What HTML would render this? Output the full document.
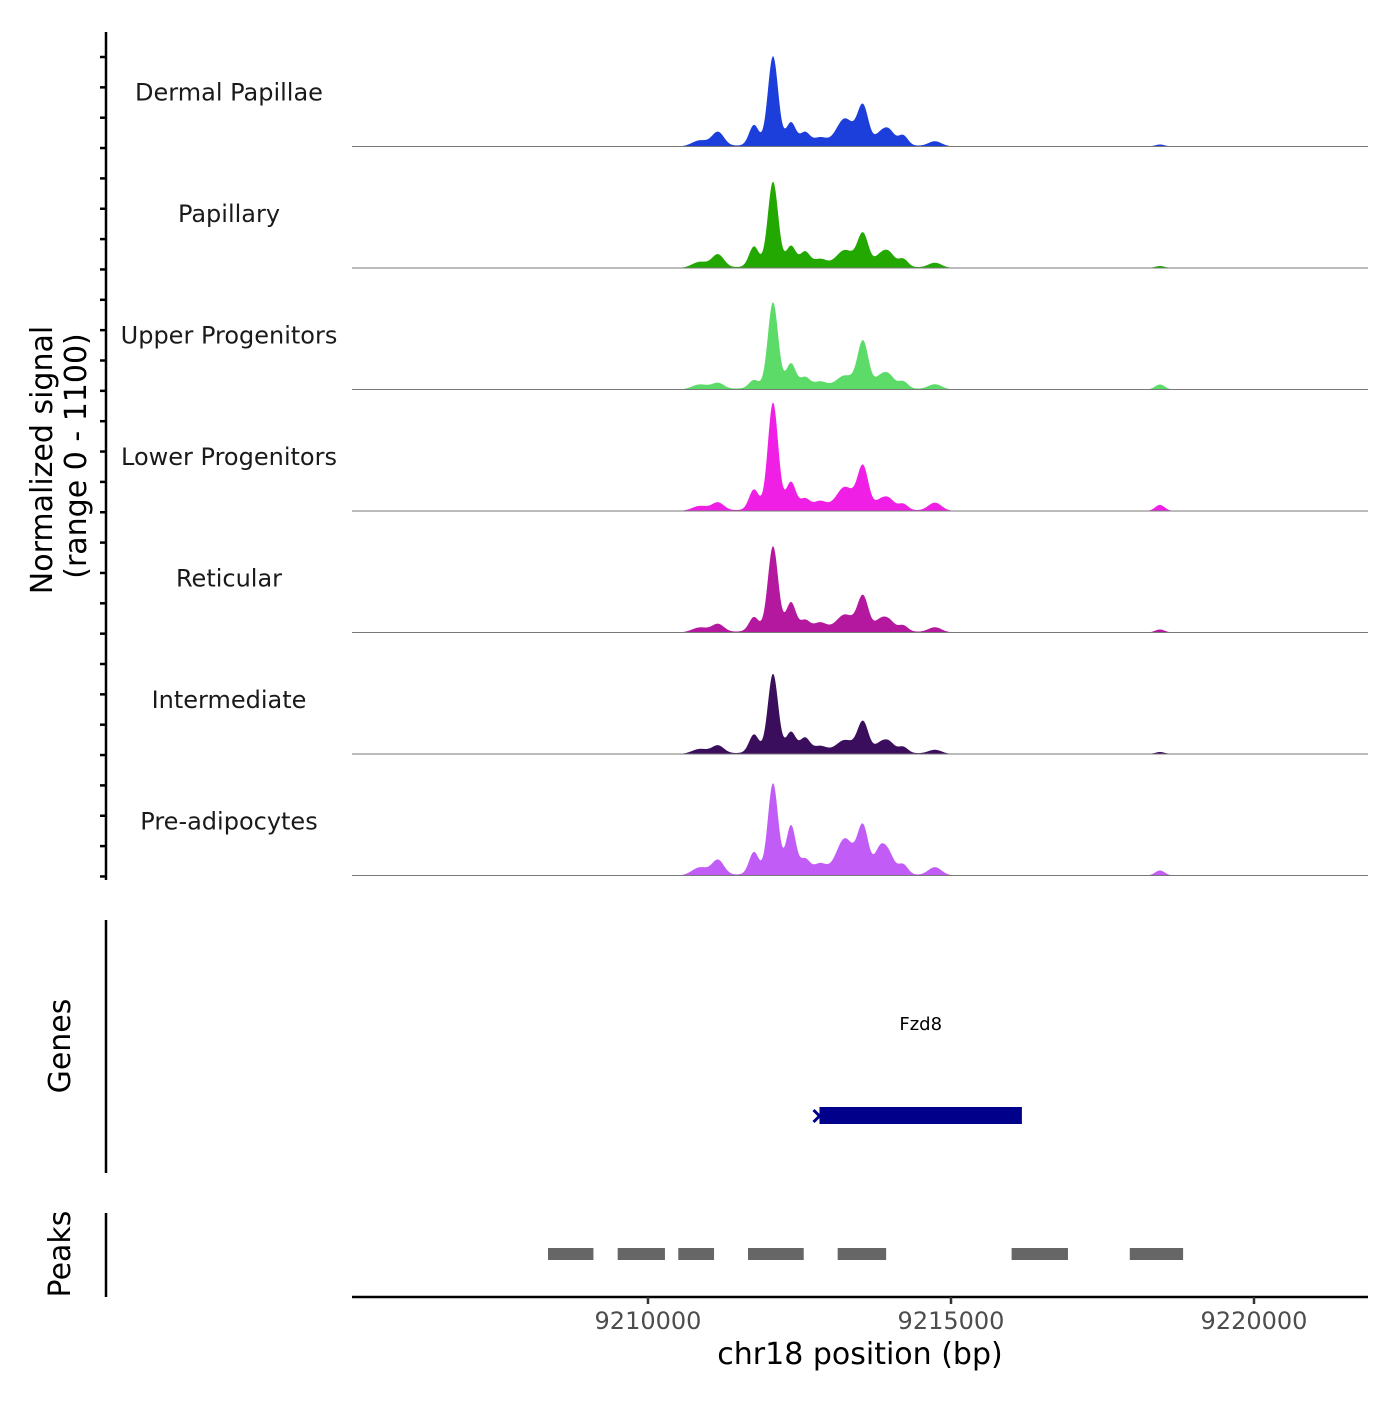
<!DOCTYPE html>
<html><head><meta charset="utf-8"><style>
body{margin:0;background:#fff}
svg text{font-family:"DejaVu Sans","Liberation Sans",sans-serif}
</style></head><body>
<svg id="chart" width="1400" height="1400" viewBox="0 0 1400 1400">
<g id="tracks"></g>
<g id="left"></g>
<g id="bottom"></g>
</svg>
<script>
const trackNames = ["Dermal Papillae","Papillary","Upper Progenitors","Lower Progenitors","Reticular","Intermediate","Pre-adipocytes"];
const trackColors = ["#1c3fdb","#22a800","#5cdb68","#f01fe6","#b3189f","#3a0e5c","#c15cf6"];
const peakPositions = [9210858,9211155,9211749,9212063,9212360,9212590,9212838,9213250,9213548,9213828,9213977,9214208,9214736,9218448];
const peakWidths = [130,100,80,85,80,80,110,140,90,90,90,80,110,80];
const dpValues = [55,127,182,800,200,109,64,236,345,91,127,91,45,18];
const papValues = [55,118,182,764,182,127,64,145,291,91,118,73,45,18];
const upValues = [45,55,73,773,218,91,55,109,418,91,109,64,45,45];
const lpValues = [45,73,182,964,245,91,73,200,382,73,91,55,73,55];
const retValues = [45,73,127,764,255,91,73,145,309,91,91,55,45,27];
const intValues = [45,73,164,709,182,127,55,109,273,73,91,55,36,18];
const preValues = [73,136,200,818,436,127,91,318,418,218,164,91,73,45];
const seriesValues = [dpValues,papValues,upValues,lpValues,retValues,intValues,preValues];
const xTicks = [9210000,9215000,9220000];
const peakStarts = [9208350,9209500,9210500,9211650,9213130,9216000,9217950];
const peakEnds = [9209100,9210280,9211090,9212570,9213930,9216930,9218830];
const geneStart = 9212830, geneEnd = 9216170;

const NS="http://www.w3.org/2000/svg";
function el(t,a,p){const e=document.createElementNS(NS,t);for(const k in a)e.setAttribute(k,a[k]);p.appendChild(e);return e;}
const X0=352,X1=1368,B0=9205116,B1=9221881;
const xs=b=>X0+(b-B0)/(B1-B0)*(X1-X0);
const trackTop=25,trackH=121.5;
const ys=(v,i)=>trackTop+(i+1)*trackH-v/1100*trackH;
const tg=document.getElementById('tracks');
seriesValues.forEach((vals,i)=>{
  const base=trackTop+(i+1)*trackH;
  let d=`M${X0},${base}`;
  for(let px=X0;px<=X1;px+=0.5){
    const b=B0+(px-X0)/(X1-X0)*(B1-B0);
    let v=0;
    peakPositions.forEach((p,j)=>{const w=peakWidths[j];v+=vals[j]*Math.exp(-0.5*((b-p)/w)**2);});
    v+=18*Math.exp(-0.5*((b-9212900)/1300)**4);
    d+=` L${px},${ys(v,i).toFixed(2)}`;
  }
  d+=` L${X1},${base} Z`;
  const p=el('path',{d,fill:trackColors[i]},tg);
  
  
  const l=el('line',{x1:X0,x2:X1,y1:base,y2:base,stroke:'#777','stroke-width':1},tg);
  
  
  const t=el('text',{x:229,y:base-46,'text-anchor':'middle','font-size':24,fill:'#1a1a1a'},tg);
  t.textContent=trackNames[i];
  
  
});
const lg=document.getElementById('left');
el('line',{x1:106,x2:106,y1:32,y2:880,stroke:'#000','stroke-width':2.5},lg);
for(let y=57;y<=880;y+=30.35){el('line',{x1:100,x2:106,y1:y,y2:y,stroke:'#000','stroke-width':2.5},lg);}
let t=el('text',{transform:'translate(52,460) rotate(-90)','text-anchor':'middle','font-size':30},lg);t.textContent='Normalized signal';

t=el('text',{transform:'translate(86,456) rotate(-90)','text-anchor':'middle','font-size':30},lg);t.textContent='(range 0 - 1100)';

el('line',{x1:106,x2:106,y1:920,y2:1173,stroke:'#000','stroke-width':2.5},lg);
t=el('text',{transform:'translate(70,1046) rotate(-90)','text-anchor':'middle','font-size':30},lg);t.textContent='Genes';

el('line',{x1:106,x2:106,y1:1213,y2:1297,stroke:'#000','stroke-width':2.5},lg);
t=el('text',{transform:'translate(70,1254) rotate(-90)','text-anchor':'middle','font-size':30},lg);t.textContent='Peaks';

const bg=document.getElementById('bottom');
const g=el('rect',{x:xs(geneStart),y:1107,width:xs(geneEnd)-xs(geneStart),height:17,fill:'#00008b'},bg);

el('path',{d:`M${xs(geneStart)-6},1110 L${xs(geneStart)},1116 L${xs(geneStart)-6},1122`,stroke:'#00008b','stroke-width':3,fill:'none'},bg);
t=el('text',{x:(xs(geneStart)+xs(geneEnd))/2,y:1030,'text-anchor':'middle','font-size':18},bg);t.textContent='Fzd8';

peakStarts.forEach((s,i)=>{
  const r=el('rect',{x:xs(s),y:1248,width:xs(peakEnds[i])-xs(s),height:12,fill:'#666'},bg);
  
  
});
el('line',{x1:X0,x2:X1,y1:1297,y2:1297,stroke:'#000','stroke-width':2.5},bg);
xTicks.forEach(v=>{
  el('line',{x1:xs(v),x2:xs(v),y1:1297,y2:1304,stroke:'#333','stroke-width':2.5},bg);
  const tt=el('text',{x:xs(v),y:1329,'text-anchor':'middle','font-size':24,fill:'#4d4d4d'},bg);
  tt.textContent=v;
  
  
});
t=el('text',{x:860,y:1364,'text-anchor':'middle','font-size':30},bg);t.textContent='chr18 position (bp)';

</script>
</body></html>
